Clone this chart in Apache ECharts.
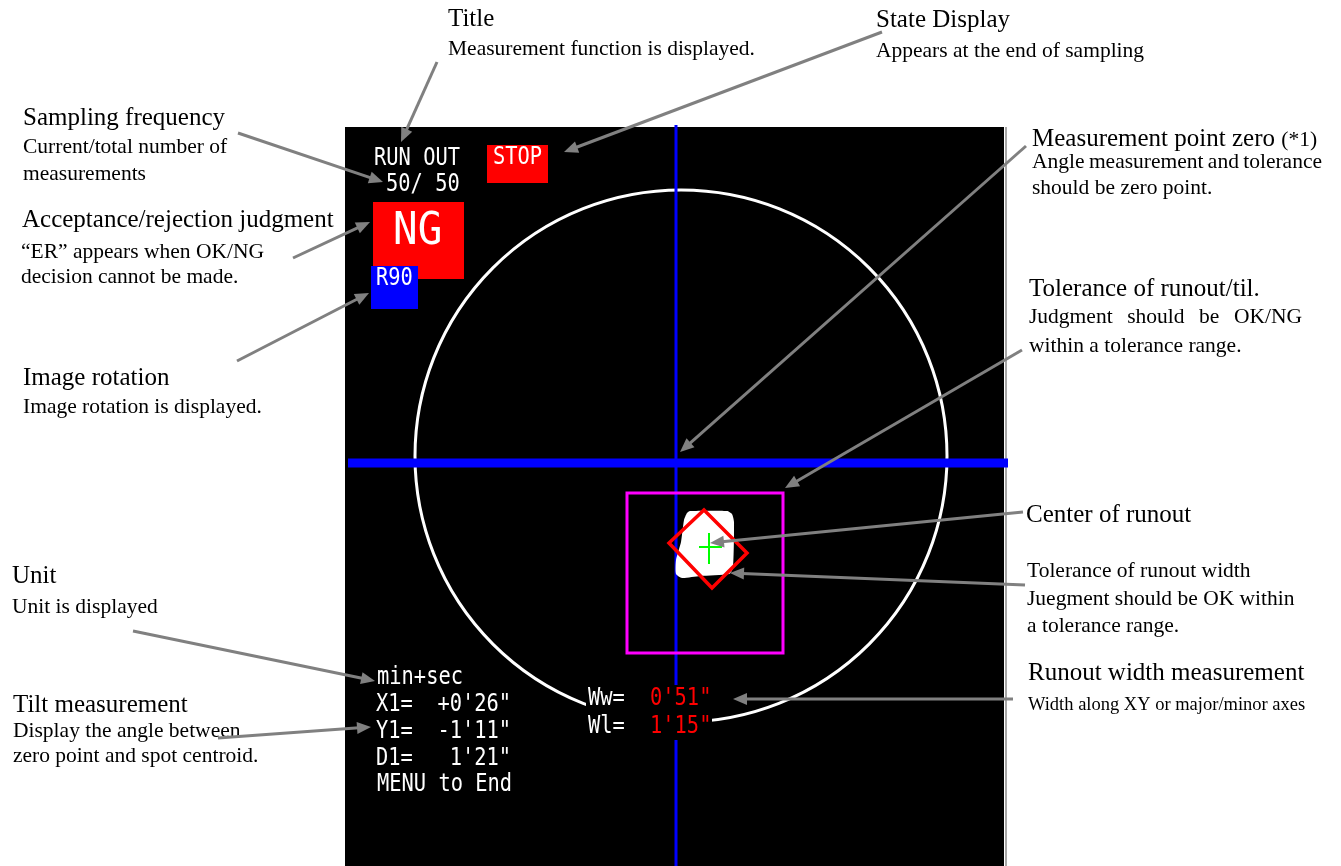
<!DOCTYPE html>
<html>
<head>
<meta charset="utf-8">
<script src="https://cdn.jsdelivr.net/npm/echarts@6/dist/echarts.min.js"></script>
<style>
html,body{margin:0;padding:0;background:#fff;}
#c{width:1341px;height:866px;}
</style>
</head>
<body>
<div id="c"></div>
<script>
// ---------- DATA (coordinates in the monitor picture's pixel space) ----------
const screenRect = [[345, 127, 1004, 866]];
const screenBorder = [[1006, 127, 1006, 866]];
const crosshairLines = [[676, 125, 676, 866], [348, 463, 1008, 463]];
const toleranceCircle = [[681, 456, 266]];            // cx, cy, r
const toleranceSquare = [[627, 493, 783, 653]];       // x0, y0, x1, y1
const spotOutline = [[690,511],[727,511],[732,514],[734,522],[733,568],[729,574],[700,576],[682,578],[676,574],[676,560],[681,542],[684,520],[687,513]];
const widthDiamond = [[704,510],[747,553],[712,588],[669,543]];
const centerCross = [[699, 547, 722, 547], [709, 533, 709, 564]];
const statusBoxes = [[487,145,548,183], [373,202,464,279], [371,266,418,309]];
const statusBoxNames = ['STOP', 'NG', 'R90'];
const textMasks = [[586, 685, 712, 740]];

// screen texts: text, x, baseline
const screenTexts = [
  ['RUN OUT', 374, 167], ['50/ 50', 386, 193], ['STOP', 493, 166], ['R90', 376, 287],
  ['min+sec', 377, 686], ['X1=  +0\'26"', 376, 713], ['Y1=  -1\'11"', 376, 740],
  ['D1=   1\'21"', 376, 767], ['MENU to End', 377, 793],
  ['Ww=', 588, 707], ['Wl=', 588, 735]
];
const judgmentText = [['NG', 393, 247]];
const widthValues = [['0\'51"', 650, 707], ['1\'15"', 650, 735]];

// annotation texts: text, x, baseline, kind, (justify right edge), (suffix)
const notes = [
  ['Title', 448, 26, 'h'],
  ['Measurement function is displayed.', 448, 55, 's'],
  ['State Display', 876, 27, 'h'],
  ['Appears at the end of sampling', 876, 57, 's'],
  ['Sampling frequency', 23, 125, 'h'],
  ['Current/total number of', 23, 153, 's'],
  ['measurements', 23, 180, 's'],
  ['Acceptance/rejection judgment', 22, 227, 'h'],
  ['\u201CER\u201D appears when OK/NG', 21, 258, 's'],
  ['decision cannot be made.', 21, 283, 's'],
  ['Image rotation', 23, 385, 'h'],
  ['Image rotation is displayed.', 23, 413, 's'],
  ['Unit', 12, 583, 'h'],
  ['Unit is displayed', 12, 613, 's'],
  ['Tilt measurement', 13, 712, 'h'],
  ['Display the angle between', 13, 737, 's'],
  ['zero point and spot centroid.', 13, 762, 's'],
  ['Measurement point zero', 1032, 146, 'h', null, '(*1)'],
  ['Angle measurement and tolerance', 1032, 168, 'j', 1322],
  ['should be zero point.', 1032, 194, 's'],
  ['Tolerance of runout/til.', 1029, 296, 'h'],
  ['Judgment should be OK/NG', 1029, 323, 'j', 1302],
  ['within a tolerance range.', 1029, 352, 's'],
  ['Center of runout', 1026, 522, 'h'],
  ['Tolerance of runout width', 1027, 577, 's'],
  ['Juegment should be OK within', 1027, 605, 's'],
  ['a tolerance range.', 1027, 632, 's'],
  ['Runout width measurement', 1028, 680, 'h'],
  ['Width along XY or major/minor axes', 1028, 710, 'x']
];

// leader arrows: from x, y -> tip x, y
const arrows = [
  [437, 62, 401, 142],
  [882, 32, 564, 152],
  [238, 133, 383, 182],
  [293, 258, 370, 222],
  [237, 361, 369, 293],
  [133, 631, 375, 681],
  [218, 738, 371, 727],
  [1026, 146, 680, 452],
  [1022, 350, 785, 488],
  [1023, 512, 710, 543],
  [1025, 585, 730, 573],
  [1013, 699, 733, 699]
];

// ---------- STYLES ----------
const SERIF = '"Liberation Serif", "Times New Roman", serif';
const MONO = '"DejaVu Sans Mono", "Liberation Mono", monospace';
const noteFonts = { h: 25, s: 21.5, j: 21.5, x: 18.5 };
const boxColors = { STOP: '#ff0000', NG: '#ff0000', R90: '#0000ff' };
const GRAY = '#808080';

const mctx = document.createElement('canvas').getContext('2d');
function measure(text, size, family) { mctx.font = size + 'px ' + family; return mctx.measureText(text).width; }

function rectFrom(api, r) {
  const p = api.coord([r[0], r[1]]), q = api.coord([r[2], r[3]]);
  return { x: p[0], y: p[1], width: q[0] - p[0], height: q[1] - p[1] };
}
function lineFrom(api, r) {
  const p = api.coord([r[0], r[1]]), q = api.coord([r[2], r[3]]);
  return { x1: p[0], y1: p[1], x2: q[0], y2: q[1] };
}
function textEl(api, x, baseline, text, size, family, fill, sx, weight) {
  const p = api.coord([x, baseline]);
  const off = (family === SERIF ? 0.27 : 0.33) * size;
  return {
    type: 'text', x: p[0], y: p[1] - off, scaleX: sx || 1, scaleY: 1,
    style: { text: text, x: 0, y: 0, font: (weight ? weight + ' ' : '') + size + 'px ' + family, fill: fill,
      align: 'left', verticalAlign: 'middle', textAlign: 'left', textVerticalAlign: 'middle' }
  };
}
function series(data, renderItem, z) {
  return { type: 'custom', coordinateSystem: 'cartesian2d', data: data, renderItem: renderItem,
    z: z, silent: true, animation: false, clip: false };
}

const chart = echarts.init(document.getElementById('c'), null, { renderer: 'canvas' });

const option = {
  backgroundColor: '#ffffff',
  animation: false,
  grid: { left: 0, right: 0, top: 0, bottom: 0 },
  xAxis: { type: 'value', min: 0, max: 1341, show: false },
  yAxis: { type: 'value', min: 0, max: 866, inverse: true, show: false },
  series: [
    series(screenRect.map(r => [r[0], r[1]]), (p, api) => ({
      type: 'rect', shape: rectFrom(api, screenRect[p.dataIndex]), style: { fill: '#000' } }), 1),
    series(screenBorder.map(r => [r[0], r[1]]), (p, api) => ({
      type: 'line', shape: lineFrom(api, screenBorder[p.dataIndex]), style: { stroke: '#8a8a8a', lineWidth: 1.5 } }), 1),
    series(toleranceCircle.map(c => [c[0], c[1]]), (p, api) => {
      const c = toleranceCircle[p.dataIndex];
      const q = api.coord([c[0], c[1]]);
      return { type: 'circle', shape: { cx: q[0], cy: q[1], r: api.size([c[2], 0])[0] },
        style: { fill: 'none', stroke: '#ffffff', lineWidth: 3 } };
    }, 2),
    series(crosshairLines.map(r => [r[0], r[1]]), (p, api) => ({
      type: 'line', shape: lineFrom(api, crosshairLines[p.dataIndex]),
      style: { stroke: '#0000ff', lineWidth: p.dataIndex === 0 ? 3 : 9 } }), 3),
    series(toleranceSquare.map(r => [r[0], r[1]]), (p, api) => ({
      type: 'rect', shape: rectFrom(api, toleranceSquare[p.dataIndex]),
      style: { fill: 'none', stroke: '#ff00ff', lineWidth: 3 } }), 4),
    series([spotOutline[0]], (p, api) => ({
      type: 'polygon', shape: { points: spotOutline.map(pt => api.coord(pt)), smooth: 0.2 },
      style: { fill: '#ffffff' } }), 5),
    series([widthDiamond[0]], (p, api) => ({
      type: 'polygon', shape: { points: widthDiamond.map(pt => api.coord(pt)) },
      style: { fill: 'none', stroke: '#ff0000', lineWidth: 3.5, lineJoin: 'miter' } }), 6),
    series(centerCross.map(r => [r[0], r[1]]), (p, api) => ({
      type: 'line', shape: lineFrom(api, centerCross[p.dataIndex]),
      style: { stroke: '#00ff00', lineWidth: 2 } }), 7),
    series(statusBoxes.map(r => [r[0], r[1]]), (p, api) => ({
      type: 'rect', shape: rectFrom(api, statusBoxes[p.dataIndex]),
      style: { fill: boxColors[statusBoxNames[p.dataIndex]] } }), 8),
    series(textMasks.map(r => [r[0], r[1]]), (p, api) => ({
      type: 'rect', shape: rectFrom(api, textMasks[p.dataIndex]), style: { fill: '#000' } }), 8),
    series(screenTexts.map(t => [t[1], t[2]]), (p, api) => {
      const t = screenTexts[p.dataIndex];
      return textEl(api, t[1], t[2], t[0], 25.5, MONO, '#ffffff', 0.8);
    }, 9),
    series(widthValues.map(t => [t[1], t[2]]), (p, api) => {
      const t = widthValues[p.dataIndex];
      return textEl(api, t[1], t[2], t[0], 25.5, MONO, '#ff0000', 0.8);
    }, 9),
    series(judgmentText.map(t => [t[1], t[2]]), (p, api) => {
      const t = judgmentText[p.dataIndex];
      return textEl(api, t[1], t[2], t[0], 44, MONO, '#ffffff', 0.93);
    }, 9),
    series(notes.map(n => [n[1], n[2]]), (p, api) => {
      const n = notes[p.dataIndex];
      const size = noteFonts[n[3]];
      if (n[3] === 'j') {
        const words = n[0].split(' ');
        const widths = words.map(w => measure(w, size, SERIF));
        const total = widths.reduce((s, v) => s + v, 0);
        const gap = (n[4] - n[1] - total) / (words.length - 1);
        let x = n[1];
        const children = words.map((w, i) => {
          const el = textEl(api, x, n[2], w, size, SERIF, '#000');
          x += widths[i] + gap;
          return el;
        });
        return { type: 'group', children: children };
      }
      const main = textEl(api, n[1], n[2], n[0], size, SERIF, '#000');
      if (n[5]) {
        const x2 = n[1] + measure(n[0] + ' ', size, SERIF);
        return { type: 'group', children: [main, textEl(api, x2, n[2], n[5], noteFonts.s, SERIF, '#000')] };
      }
      return main;
    }, 10),
    series(arrows.map(a => [a[0], a[1]]), (p, api) => {
      const a = arrows[p.dataIndex];
      const s = api.coord([a[0], a[1]]), q = api.coord([a[2], a[3]]);
      const dx = q[0] - s[0], dy = q[1] - s[1], L = Math.hypot(dx, dy);
      const ux = dx / L, uy = dy / L, hl = 14, hw = 6;
      const bx = q[0] - ux * hl, by = q[1] - uy * hl;
      return { type: 'group', children: [
        { type: 'line', shape: { x1: s[0], y1: s[1], x2: bx + ux * 2, y2: by + uy * 2 },
          style: { stroke: GRAY, lineWidth: 3 } },
        { type: 'polygon', shape: { points: [[q[0], q[1]], [bx - uy * hw, by + ux * hw], [bx + uy * hw, by - ux * hw]] },
          style: { fill: GRAY } }
      ] };
    }, 11)
  ]
};
chart.setOption(option);
</script>
</body>
</html>
